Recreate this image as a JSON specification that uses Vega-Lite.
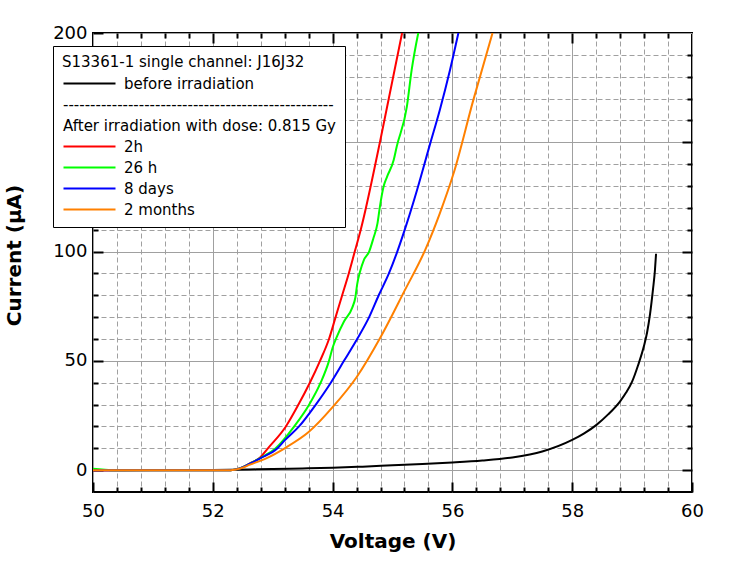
{
  "$schema": "https://vega.github.io/schema/vega-lite/v6.json",
  "width": 599,
  "height": 459,
  "autosize": "none",
  "padding": {"left": 93, "top": 33, "right": 37, "bottom": 74},
  "background": "white",
  "config": {
    "view": {"stroke": "black", "strokeWidth": 2},
    "font": "DejaVu Sans"
  },
  "data": {
    "values": [
      {"series": "before irradiation", "voltage": 50, "current": 0},
      {"series": "before irradiation", "voltage": 51, "current": 0.02},
      {"series": "before irradiation", "voltage": 52, "current": 0.1},
      {"series": "before irradiation", "voltage": 52.6, "current": 0.3},
      {"series": "before irradiation", "voltage": 53, "current": 0.5},
      {"series": "before irradiation", "voltage": 53.5, "current": 0.8},
      {"series": "before irradiation", "voltage": 54, "current": 1.1},
      {"series": "before irradiation", "voltage": 54.5, "current": 1.6},
      {"series": "before irradiation", "voltage": 55, "current": 2.2},
      {"series": "before irradiation", "voltage": 55.5, "current": 2.8},
      {"series": "before irradiation", "voltage": 56, "current": 3.5},
      {"series": "before irradiation", "voltage": 56.5, "current": 4.4},
      {"series": "before irradiation", "voltage": 57, "current": 5.8},
      {"series": "before irradiation", "voltage": 57.5, "current": 8.5},
      {"series": "before irradiation", "voltage": 58, "current": 13.8},
      {"series": "before irradiation", "voltage": 58.2, "current": 16.8},
      {"series": "before irradiation", "voltage": 58.4, "current": 20.6},
      {"series": "before irradiation", "voltage": 58.6, "current": 25.5},
      {"series": "before irradiation", "voltage": 58.8, "current": 31.5},
      {"series": "before irradiation", "voltage": 58.9, "current": 35.5},
      {"series": "before irradiation", "voltage": 59, "current": 40.5},
      {"series": "before irradiation", "voltage": 59.1, "current": 48},
      {"series": "before irradiation", "voltage": 59.2, "current": 57},
      {"series": "before irradiation", "voltage": 59.25, "current": 63},
      {"series": "before irradiation", "voltage": 59.3, "current": 71.5},
      {"series": "before irradiation", "voltage": 59.35, "current": 83},
      {"series": "before irradiation", "voltage": 59.38, "current": 91},
      {"series": "before irradiation", "voltage": 59.4, "current": 99},

      {"series": "2h", "voltage": 50, "current": 0},
      {"series": "2h", "voltage": 52.3, "current": 0},
      {"series": "2h", "voltage": 52.45, "current": 0.8},
      {"series": "2h", "voltage": 52.62, "current": 3.1},
      {"series": "2h", "voltage": 52.79, "current": 5.8},
      {"series": "2h", "voltage": 52.92, "current": 10},
      {"series": "2h", "voltage": 53.22, "current": 20},
      {"series": "2h", "voltage": 53.43, "current": 30},
      {"series": "2h", "voltage": 53.62, "current": 40},
      {"series": "2h", "voltage": 53.79, "current": 50},
      {"series": "2h", "voltage": 53.94, "current": 60},
      {"series": "2h", "voltage": 54.05, "current": 70},
      {"series": "2h", "voltage": 54.16, "current": 80},
      {"series": "2h", "voltage": 54.27, "current": 90},
      {"series": "2h", "voltage": 54.37, "current": 100},
      {"series": "2h", "voltage": 54.47, "current": 110},
      {"series": "2h", "voltage": 54.79, "current": 150},
      {"series": "2h", "voltage": 55.16, "current": 200},

      {"series": "26 h", "voltage": 50, "current": 0.6},
      {"series": "26 h", "voltage": 50.15, "current": 0.3},
      {"series": "26 h", "voltage": 50.3, "current": 0},
      {"series": "26 h", "voltage": 52.3, "current": 0},
      {"series": "26 h", "voltage": 52.45, "current": 0.8},
      {"series": "26 h", "voltage": 52.62, "current": 3},
      {"series": "26 h", "voltage": 52.79, "current": 5.5},
      {"series": "26 h", "voltage": 53.05, "current": 10},
      {"series": "26 h", "voltage": 53.36, "current": 20},
      {"series": "26 h", "voltage": 53.61, "current": 30},
      {"series": "26 h", "voltage": 53.8, "current": 40},
      {"series": "26 h", "voltage": 53.94, "current": 50},
      {"series": "26 h", "voltage": 54.0, "current": 56},
      {"series": "26 h", "voltage": 54.07, "current": 61},
      {"series": "26 h", "voltage": 54.19, "current": 68},
      {"series": "26 h", "voltage": 54.33, "current": 74.5},
      {"series": "26 h", "voltage": 54.38, "current": 79},
      {"series": "26 h", "voltage": 54.41, "current": 85},
      {"series": "26 h", "voltage": 54.46, "current": 91},
      {"series": "26 h", "voltage": 54.52, "current": 96},
      {"series": "26 h", "voltage": 54.61, "current": 100},
      {"series": "26 h", "voltage": 54.68, "current": 106},
      {"series": "26 h", "voltage": 54.75, "current": 113},
      {"series": "26 h", "voltage": 54.79, "current": 120.6},
      {"series": "26 h", "voltage": 54.85, "current": 129.7},
      {"series": "26 h", "voltage": 54.91, "current": 134.3},
      {"series": "26 h", "voltage": 55.02, "current": 141.9},
      {"series": "26 h", "voltage": 55.07, "current": 148},
      {"series": "26 h", "voltage": 55.24, "current": 166.3},
      {"series": "26 h", "voltage": 55.32, "current": 183.1},
      {"series": "26 h", "voltage": 55.43, "current": 200},

      {"series": "8 days", "voltage": 50, "current": 0},
      {"series": "8 days", "voltage": 52.3, "current": 0},
      {"series": "8 days", "voltage": 52.45, "current": 0.8},
      {"series": "8 days", "voltage": 52.62, "current": 3},
      {"series": "8 days", "voltage": 52.79, "current": 5.4},
      {"series": "8 days", "voltage": 53.08, "current": 10},
      {"series": "8 days", "voltage": 53.2, "current": 13.6},
      {"series": "8 days", "voltage": 53.44, "current": 20},
      {"series": "8 days", "voltage": 53.72, "current": 30},
      {"series": "8 days", "voltage": 53.97, "current": 40},
      {"series": "8 days", "voltage": 54.19, "current": 50},
      {"series": "8 days", "voltage": 54.41, "current": 60},
      {"series": "8 days", "voltage": 54.61, "current": 70},
      {"series": "8 days", "voltage": 54.77, "current": 80},
      {"series": "8 days", "voltage": 54.94, "current": 90},
      {"series": "8 days", "voltage": 55.08, "current": 100},
      {"series": "8 days", "voltage": 55.24, "current": 113},
      {"series": "8 days", "voltage": 55.41, "current": 128.2},
      {"series": "8 days", "voltage": 55.63, "current": 149.5},
      {"series": "8 days", "voltage": 55.79, "current": 164.8},
      {"series": "8 days", "voltage": 55.96, "current": 183.1},
      {"series": "8 days", "voltage": 56.1, "current": 200},

      {"series": "2 months", "voltage": 50, "current": 0},
      {"series": "2 months", "voltage": 52.3, "current": 0},
      {"series": "2 months", "voltage": 52.45, "current": 0.7},
      {"series": "2 months", "voltage": 52.62, "current": 2.5},
      {"series": "2 months", "voltage": 52.9, "current": 5.5},
      {"series": "2 months", "voltage": 53.2, "current": 10},
      {"series": "2 months", "voltage": 53.6, "current": 17.4},
      {"series": "2 months", "voltage": 54.0, "current": 28.8},
      {"series": "2 months", "voltage": 54.4, "current": 42.5},
      {"series": "2 months", "voltage": 54.8, "current": 60.8},
      {"series": "2 months", "voltage": 55.2, "current": 82},
      {"series": "2 months", "voltage": 55.55, "current": 101},
      {"series": "2 months", "voltage": 55.79, "current": 117.5},
      {"series": "2 months", "voltage": 56.02, "current": 135.8},
      {"series": "2 months", "voltage": 56.35, "current": 169.4},
      {"series": "2 months", "voltage": 56.67, "current": 200}
    ]
  },
  "layer": [
    {
      "mark": {"type": "line", "strokeWidth": 2, "clip": true, "interpolate": "monotone"},
      "encoding": {
        "x": {
          "field": "voltage", "type": "quantitative",
          "scale": {"domain": [50, 60], "nice": false, "zero": false},
          "axis": {
            "orient": "bottom", "values": [50, 52, 54, 56, 58, 60],
            "title": "Voltage (V)", "domain": false, "labelFlush": false,
            "grid": true, "gridColor": "#a0a0a0", "gridWidth": 1,
            "ticks": true, "tickSize": -10, "tickWidth": 2, "tickColor": "black",
            "labelFont": "DejaVu Sans", "labelFontSize": 18, "labelColor": "black", "labelPadding": 20,
            "titleFont": "DejaVu Sans", "titleFontSize": 20, "titleFontWeight": "bold", "titleColor": "black", "titlePadding": 11
          }
        },
        "y": {
          "field": "current", "type": "quantitative",
          "scale": {"domain": [-10, 200], "nice": false, "zero": false},
          "axis": {
            "orient": "left", "values": [0, 50, 100, 150, 200],
            "title": "Current (μA)", "domain": false, "labelFlush": false,
            "grid": true, "gridColor": "#a0a0a0", "gridWidth": 1,
            "ticks": true, "tickSize": -10, "tickWidth": 2, "tickColor": "black",
            "labelFont": "DejaVu Sans", "labelFontSize": 18, "labelColor": "black", "labelPadding": 16,
            "titleFont": "DejaVu Sans", "titleFontSize": 20, "titleFontWeight": "bold", "titleColor": "black", "titlePadding": 28, "titleY": 222
          }
        },
        "color": {
          "field": "series", "type": "nominal",
          "scale": {
            "domain": ["before irradiation", "sep", "after", "2h", "26 h", "8 days", "2 months"],
            "range": ["#000000", "transparent", "transparent", "#ff0000", "#00ff00", "#0000ff", "#ff8000"]
          },
          "legend": {
            "orient": "none", "legendX": -40, "legendY": 13,
            "title": "S13361-1 single channel: J16J32", "titleLimit": 400,
            "titleFont": "DejaVu Sans", "titleFontSize": 15, "titleFontWeight": "normal", "titleColor": "black", "titlePadding": 6,
            "labelFont": "DejaVu Sans", "labelFontSize": 15, "labelColor": "black", "labelLimit": 400, "labelOffset": 27,
            "symbolType": "M-5.2,0H5.2", "symbolSize": 100, "symbolStrokeWidth": 2, "symbolOffset": 20,
            "rowPadding": 5,
            "padding": 9, "strokeColor": "black", "fillColor": "white",
            "values": ["before irradiation", "sep", "after", "2h", "26 h", "8 days", "2 months"],
            "labelExpr": "datum.value == 'sep' ? '--------------------------------------------------' : datum.value == 'after' ? 'After irradiation with dose: 0.815 Gy\u00a0' : datum.label",
            "encode": {
              "labels": {"update": {"dx": {"signal": "datum.value == 'sep' || datum.value == 'after' ? -61 : 0"}}}
            }
          }
        }
      }
    },
    {
      "mark": {"type": "line", "opacity": 0},
      "encoding": {
        "x": {
          "field": "voltage", "type": "quantitative",
          "axis": {
            "orient": "bottom", "title": null, "labels": false, "domain": false,
            "values": [50.4, 50.8, 51.2, 51.6, 52.4, 52.8, 53.2, 53.6, 54.4, 54.8, 55.2, 55.6, 56.4, 56.8, 57.2, 57.6, 58.4, 58.8, 59.2, 59.6],
            "grid": true, "gridColor": "#a0a0a0", "gridWidth": 1, "gridDash": [5, 3],
            "tickSize": -5, "tickWidth": 2, "tickColor": "black"
          }
        },
        "y": {
          "field": "current", "type": "quantitative",
          "axis": {
            "orient": "left", "title": null, "labels": false, "domain": false,
            "values": [10, 20, 30, 40, 60, 70, 80, 90, 110, 120, 130, 140, 160, 170, 180, 190],
            "grid": true, "gridColor": "#a0a0a0", "gridWidth": 1, "gridDash": [5, 3],
            "tickSize": -5, "tickWidth": 2, "tickColor": "black"
          }
        },
        "detail": {"field": "series"}
      }
    },
    {
      "mark": {"type": "line", "opacity": 0},
      "encoding": {
        "x": {
          "field": "voltage", "type": "quantitative",
          "axis": {
            "orient": "top", "title": null, "labels": false, "domain": false, "grid": false,
            "values": [52, 54, 56, 58],
            "tickSize": -10, "tickWidth": 2, "tickColor": "black"
          }
        },
        "y": {
          "field": "current", "type": "quantitative",
          "axis": {
            "orient": "right", "title": null, "labels": false, "domain": false, "grid": false,
            "values": [0, 50, 100, 150],
            "tickSize": -10, "tickWidth": 2, "tickColor": "black"
          }
        },
        "detail": {"field": "series"}
      }
    },
    {
      "mark": {"type": "line", "opacity": 0},
      "encoding": {
        "x": {
          "field": "voltage", "type": "quantitative",
          "axis": {
            "orient": "top", "title": null, "labels": false, "domain": false, "grid": false,
            "values": [50.4, 50.8, 51.2, 51.6, 52.4, 52.8, 53.2, 53.6, 54.4, 54.8, 55.2, 55.6, 56.4, 56.8, 57.2, 57.6, 58.4, 58.8, 59.2, 59.6],
            "tickSize": -5, "tickWidth": 2, "tickColor": "black"
          }
        },
        "y": {
          "field": "current", "type": "quantitative",
          "axis": {
            "orient": "right", "title": null, "labels": false, "domain": false, "grid": false,
            "values": [10, 20, 30, 40, 60, 70, 80, 90, 110, 120, 130, 140, 160, 170, 180, 190],
            "tickSize": -5, "tickWidth": 2, "tickColor": "black"
          }
        },
        "detail": {"field": "series"}
      }
    }
  ],
  "resolve": {"axis": {"x": "independent", "y": "independent"}}
}
